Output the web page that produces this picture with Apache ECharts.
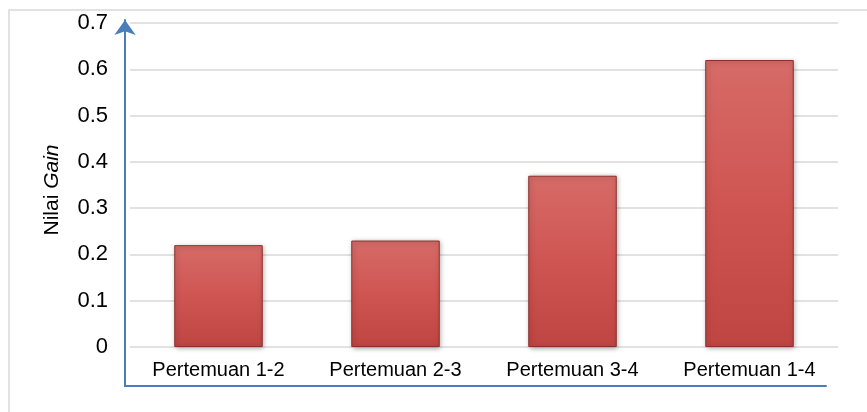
<!DOCTYPE html>
<html>
<head>
<meta charset="utf-8">
<script src="https://cdn.jsdelivr.net/npm/echarts@6/dist/echarts.min.js"></script>
<style>
  html, body { margin: 0; padding: 0; background: #fff; }
  #chart { width: 867px; height: 412px; }
</style>
</head>
<body>
<div id="chart"></div>
<script>
const categories = ['Pertemuan 1-2', 'Pertemuan 2-3', 'Pertemuan 3-4', 'Pertemuan 1-4'];
const gainValues = [0.22, 0.23, 0.37, 0.62];
const yTicks = { min: 0, max: 0.7, interval: 0.1 };

const chart = echarts.init(document.getElementById('chart'));

const barColor = new echarts.graphic.LinearGradient(0, 0, 0, 1, [
  { offset: 0, color: '#d66b67' },
  { offset: 0.5, color: '#cf5552' },
  { offset: 1, color: '#bf4542' }
]);

chart.setOption({
  animation: false,
  textStyle: { fontFamily: 'Liberation Sans, Arial, sans-serif' },
  graphic: [{
    type: 'rect',
    shape: { x: 9, y: 10, width: 900, height: 450 },
    style: { fill: 'none', stroke: '#d9d9d9', lineWidth: 1.5 },
    silent: true
  }],
  grid: [
    { left: 130, right: 29, top: 23, bottom: 65 },
    // frame for the blue axis lines with the arrow
    { left: 125, right: 41, top: 20, bottom: 26 }
  ],
  xAxis: [
    {
      type: 'category',
      gridIndex: 0,
      data: categories,
      axisLine: { show: false },
      axisTick: { show: false },
      axisLabel: { color: '#000', fontSize: 20, margin: 13 }
    },
    {
      type: 'value',
      gridIndex: 1,
      min: 0, max: 1,
      axisLine: { show: true, onZero: false, lineStyle: { color: '#4a7ebb', width: 2 } },
      axisTick: { show: false },
      axisLabel: { show: false },
      splitLine: { show: false }
    }
  ],
  yAxis: [
    {
      type: 'value',
      gridIndex: 0,
      min: yTicks.min,
      max: yTicks.max,
      interval: yTicks.interval,
      axisLine: { show: false },
      axisTick: { show: false },
      axisLabel: { color: '#000', fontSize: 22, margin: 22 },
      splitLine: { lineStyle: { color: '#d9d9d9', width: 1.5 } },
      name: '{a|Nilai }{b|Gain}',
      nameLocation: 'middle',
      nameGap: 67,
      nameTextStyle: {
        padding: [0, 10, 0, 0],
        rich: {
          a: { fontSize: 21, color: '#000' },
          b: { fontSize: 21, color: '#000', fontStyle: 'italic' }
        }
      }
    },
    {
      type: 'value',
      gridIndex: 1,
      min: 0, max: 1,
      axisLine: {
        show: true, onZero: false,
        symbol: ['none', 'arrow'],
        symbolSize: [16, 15],
        lineStyle: { color: '#4a7ebb', width: 2 }
      },
      axisTick: { show: false },
      axisLabel: { show: false },
      splitLine: { show: false }
    }
  ],
  series: [{
    type: 'bar',
    xAxisIndex: 0,
    yAxisIndex: 0,
    data: gainValues,
    barWidth: '50%',
    itemStyle: {
      color: barColor,
      borderColor: '#8c2f2d',
      borderWidth: 1,
      shadowColor: 'rgba(0,0,0,0.35)',
      shadowBlur: 5,
      shadowOffsetX: 1,
      shadowOffsetY: 1
    }
  }]
});

window.addEventListener('resize', () => chart.resize());
</script>
</body>
</html>
